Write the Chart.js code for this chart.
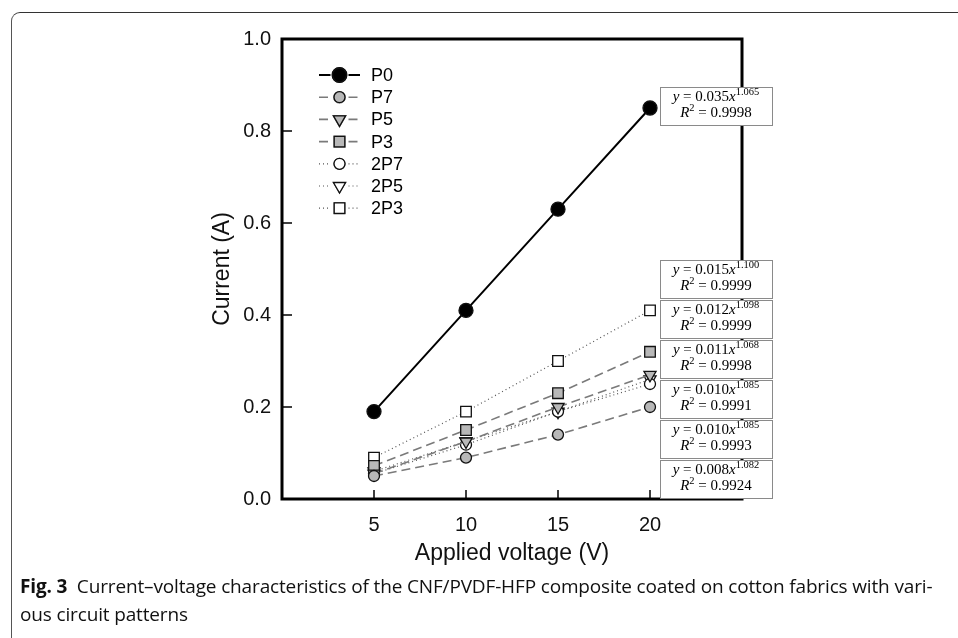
<!DOCTYPE html>
<html>
<head>
<meta charset="utf-8">
<style>
  html, body { margin: 0; padding: 0; background: #fff; overflow: hidden; }
  #frame { position: absolute; left: 11px; top: 12px; width: 1000px; height: 700px;
           border-top: 1.5px solid #333; border-left: 1.5px solid #555; border-top-left-radius: 9px; }
  #chart { position: absolute; left: 0; top: 0; }
  #caption { position: absolute; left: 20px; top: 572px; font-family: "Open Sans", sans-serif;
             font-size: 19px; line-height: 28px; color: #111; white-space: nowrap; letter-spacing: -0.15px; }
  #caption b { font-weight: 700; }
</style>
</head>
<body>
<div id="frame"></div>
<canvas id="chart" width="958" height="638"></canvas>
<div id="caption"><b>Fig. 3</b>&nbsp; Current–voltage characteristics of the CNF/PVDF-HFP composite coated on cotton fabrics with vari-<br>ous circuit patterns</div>

<script src="https://cdn.jsdelivr.net/npm/chart.js"></script>
<script>
// data
var voltage = [5, 10, 15, 20];
var seriesNames = ["P0", "P7", "P5", "P3", "2P7", "2P5", "2P3"];
var P0  = [0.19, 0.41, 0.63, 0.85];
var P7  = [0.05, 0.09, 0.14, 0.20];
var P5  = [0.055, 0.125, 0.20, 0.27];
var P3  = [0.072, 0.15, 0.23, 0.32];
var P2_7 = [0.055, 0.118, 0.19, 0.25];
var P2_5 = [0.06, 0.125, 0.19, 0.26];
var P2_3 = [0.09, 0.19, 0.30, 0.41];

var xTicks = [5, 10, 15, 20];
var yTicks = [0, 0.2, 0.4, 0.6, 0.8, 1.0];

// fit labels: the single one by P0, the stack at the bottom right (top to bottom)
var fitP0 = {coef: "0.035", exp: "1.065", r2: "0.9998"};
var fitStack = [
  {coef: "0.015", exp: "1.100", r2: "0.9999"},
  {coef: "0.012", exp: "1.098", r2: "0.9999"},
  {coef: "0.011", exp: "1.068", r2: "0.9998"},
  {coef: "0.010", exp: "1.085", r2: "0.9991"},
  {coef: "0.010", exp: "1.085", r2: "0.9993"},
  {coef: "0.008", exp: "1.082", r2: "0.9924"}
];
</script>

<script>
function pts(ys){
	return ys.map(function(v, i){ return {x: voltage[i], y: v}; });
}

var dashed = [9, 5];
var dotted = [1, 3];
function ds(label, ys, style, pointStyle, radius){
	var d = {
		label: label,
		data: pts(ys),
		showLine: true,
		pointStyle: pointStyle,
		pointRadius: radius,
		pointRotation: pointStyle == 'triangle' ? 180 : 0,
		pointBorderColor: '#111',
		pointBorderWidth: 1.3
	};
	if(style == 'solid'){
		d.borderColor = '#000'; d.borderWidth = 2; d.pointBackgroundColor = '#000';
	} else if(style == 'dash'){
		d.borderColor = '#7a7a7a'; d.borderWidth = 1.6; d.borderDash = dashed; d.pointBackgroundColor = '#b8b8b8';
	} else {
		d.borderColor = '#555'; d.borderWidth = 1.2; d.borderDash = dotted; d.pointBackgroundColor = '#fff';
	}
	return d;
}

var datasets = [
	ds(seriesNames[0], P0, 'solid', 'circle', 7),
	ds(seriesNames[1], P7, 'dash', 'circle', 5.5),
	ds(seriesNames[2], P5, 'dash', 'triangle', 7),
	ds(seriesNames[3], P3, 'dash', 'rect', 7.5),
	ds(seriesNames[4], P2_7, 'dot', 'circle', 5.5),
	ds(seriesNames[5], P2_5, 'dot', 'triangle', 7),
	ds(seriesNames[6], P2_3, 'dot', 'rect', 7.5)
];

function drawEq(ctx, cx, top, f){
	var serif = '"Liberation Serif", serif';
	var line1 = [["y", "italic 15px " + serif, 0], [" = " + f.coef, "15px " + serif, 0],
	             ["x", "italic 15px " + serif, 0], [f.exp, "10.5px " + serif, -6]];
	var line2 = [["R", "italic 15px " + serif, 0], ["2", "10.5px " + serif, -6],
	             [" = " + f.r2, "15px " + serif, 0]];
	[[line1, top + 14], [line2, top + 30]].forEach(function(l){
		var w = 0;
		l[0].forEach(function(p){ ctx.font = p[1]; w += ctx.measureText(p[0]).width; });
		var x = cx - w / 2;
		l[0].forEach(function(p){
			ctx.font = p[1];
			ctx.fillText(p[0], x, l[1] + p[2]);
			x += ctx.measureText(p[0]).width;
		});
	});
}

var decor = {
	id: 'decor',
	beforeDatasetsDraw: function(chart){
		var ctx = chart.ctx, a = chart.chartArea;
		var xs = chart.scales.x, ys = chart.scales.y;
		ctx.save();
		ctx.strokeStyle = '#000';
		ctx.lineWidth = 1.5;
		ctx.beginPath();
		xTicks.forEach(function(v){
			var px = xs.getPixelForValue(v);
			ctx.moveTo(px, a.bottom); ctx.lineTo(px, a.bottom - 9);
		});
		yTicks.forEach(function(v){
			var py = ys.getPixelForValue(v);
			ctx.moveTo(a.left, py); ctx.lineTo(a.left + 10, py);
		});
		ctx.stroke();
		ctx.lineWidth = 3;
		ctx.strokeRect(a.left, a.top, a.right - a.left, a.bottom - a.top);
		ctx.restore();
	},
	afterDatasetsDraw: function(chart){
		var ctx = chart.ctx, a = chart.chartArea;
		var xs = chart.scales.x, ys = chart.scales.y;
		ctx.save();
		// legend inside the plot
		chart.data.datasets.forEach(function(d, i){
			var y = a.top + 36 + i * 22.2;
			var x0 = a.left + 37, x1 = a.left + 78, xm = (x0 + x1) / 2;
			ctx.strokeStyle = d.borderColor;
			ctx.lineWidth = d.borderWidth;
			ctx.setLineDash(d.borderDash || []);
			ctx.beginPath(); ctx.moveTo(x0, y); ctx.lineTo(xm - 9, y);
			ctx.moveTo(xm + 9, y); ctx.lineTo(x1, y); ctx.stroke();
			ctx.setLineDash([]);
			Chart.helpers.drawPoint(ctx, {
				pointStyle: d.pointStyle, radius: d.pointRadius, rotation: d.pointRotation,
				borderWidth: d.pointBorderWidth
			}, xm, y);
			ctx.fillStyle = d.pointBackgroundColor;
			ctx.strokeStyle = d.pointBorderColor;
			ctx.lineWidth = d.pointBorderWidth;
			ctx.fill(); ctx.stroke();
			ctx.fillStyle = '#000';
			ctx.font = '18px "Liberation Sans", Arial, sans-serif';
			ctx.textBaseline = 'middle';
			ctx.fillText(d.label, a.left + 89, y + 1);
		});
		// fit boxes
		ctx.textBaseline = 'alphabetic';
		var bx = xs.getPixelForValue(20) + 10, bw = 112, bh = 38;
		function box(top, f){
			ctx.fillStyle = '#fff';
			ctx.fillRect(bx, top, bw, bh);
			ctx.strokeStyle = '#8a8a8a';
			ctx.lineWidth = 1;
			ctx.strokeRect(bx + 0.5, top + 0.5, bw, bh);
			ctx.fillStyle = '#000';
			drawEq(ctx, bx + bw / 2, top, f);
		}
		box(ys.getPixelForValue(P0[3]) - 21, fitP0);
		fitStack.forEach(function(f, i){
			box(a.bottom - 39 - (fitStack.length - 1 - i) * 40, f);
		});
		ctx.restore();
	}
};

var tickFont = {family: '"Liberation Sans", Arial, sans-serif', size: 20};
var titleFont = {family: '"Liberation Sans", Arial, sans-serif', size: 23};

var chart = new Chart(document.getElementById('chart').getContext('2d'), {
	type: 'scatter',
	data: {datasets: datasets},
	plugins: [decor],
	options: {
		responsive: false,
		animation: false,
		layout: {padding: {left: 200, top: 39, right: 216, bottom: 59}},
		plugins: {legend: {display: false}, tooltip: {enabled: false}},
		scales: {
			x: {
				type: 'linear', min: 0, max: 25,
				afterFit: function(s){ s.height = 80; },
				afterBuildTicks: function(s){ s.ticks = xTicks.map(function(v){ return {value: v}; }); },
				grid: {display: false, drawTicks: false},
				border: {display: false},
				ticks: {font: tickFont, color: '#111', padding: 14, maxRotation: 0},
				title: {display: true, text: 'Applied voltage (V)', font: titleFont, color: '#111', padding: {top: 0, bottom: 12}}
			},
			y: {
				type: 'linear', min: 0, max: 1,
				afterFit: function(s){ s.width = 82; },
				afterBuildTicks: function(s){ s.ticks = yTicks.map(function(v){ return {value: v}; }); },
				grid: {display: false, drawTicks: false},
				border: {display: false},
				ticks: {font: tickFont, color: '#111', padding: 11, callback: function(v){ return v.toFixed(1); }},
				title: {display: true, text: 'Current (A)', font: titleFont, color: '#111', padding: {top: 9, bottom: 0}}
			}
		}
	}
});
</script>
</body>
</html>
